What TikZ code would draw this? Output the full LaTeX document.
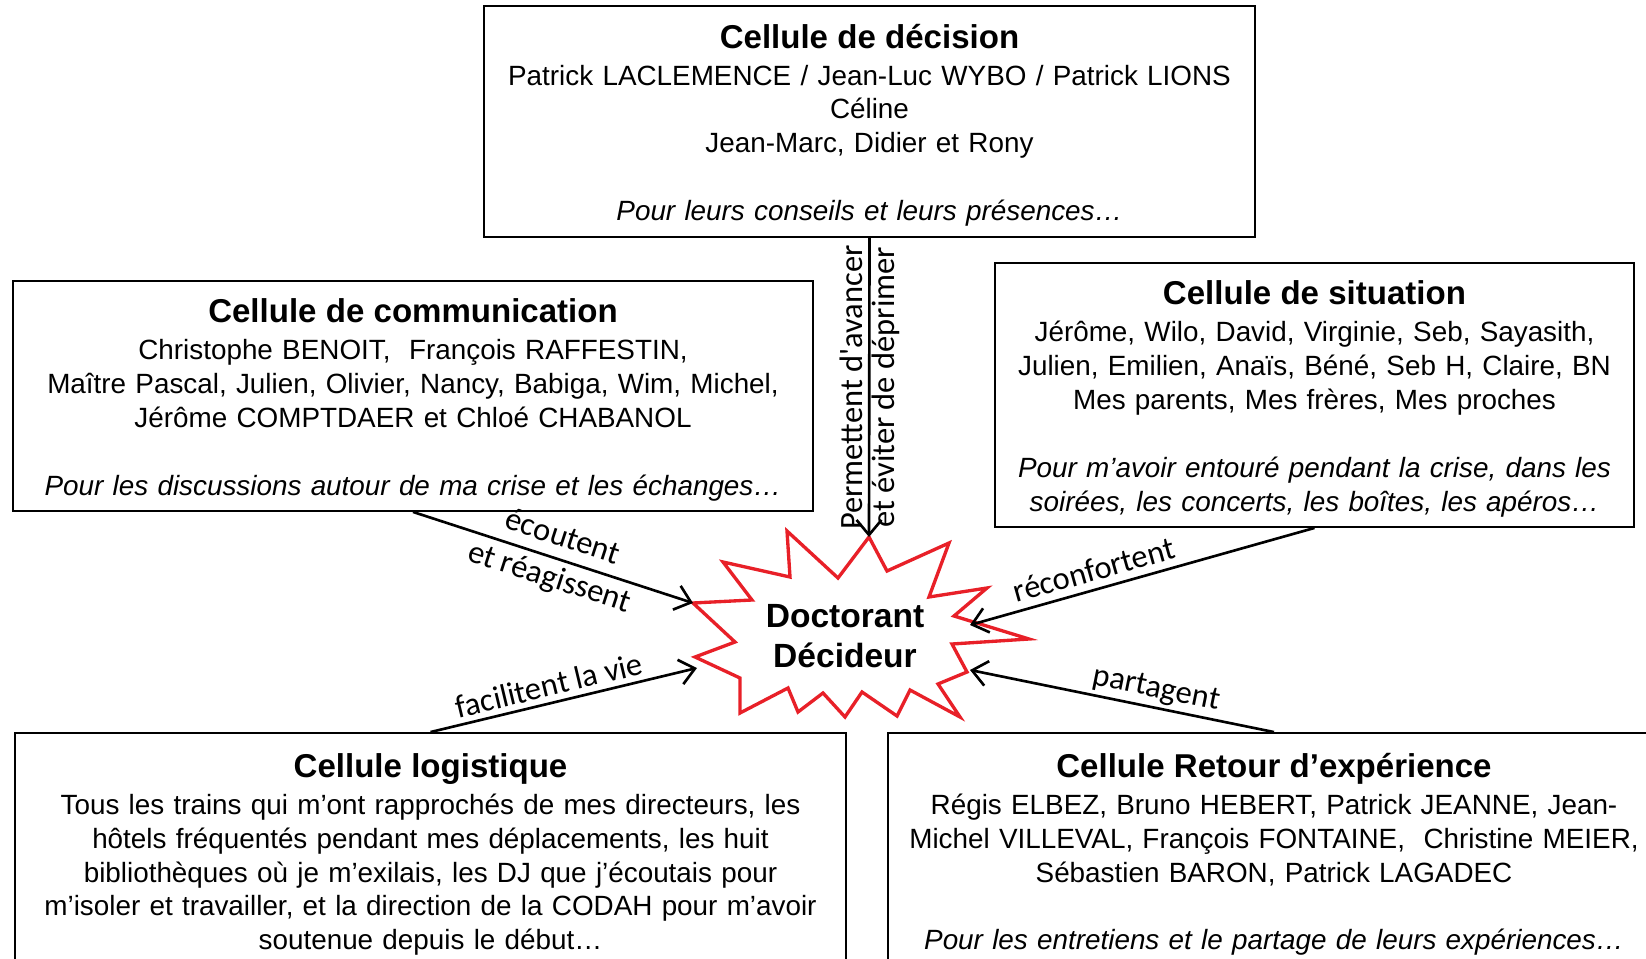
\documentclass[tikz,border=0pt]{standalone}
\usepackage{fontspec}
\setmainfont{Liberation Sans}
\newfontfamily\calibfont{Carlito}
\usetikzlibrary{arrows.meta, positioning}
\definecolor{burstred}{RGB}{232,32,40}

\newcommand*{\bodysize}{\fontsize{15.85}{19.3}\selectfont}
\newcommand*{\celltitle}[1]{{\fontsize{18.8}{21}\selectfont\bfseries #1}\\[1.7pt]}

\begin{document}
\begin{tikzpicture}[x=0.02cm, y=-0.02cm, >={Straight Barb[length=0.3cm, width=0.5cm]},
cell/.style={draw, line width=1.1pt, rectangle, inner sep=0pt, align=center, font=\bodysize, text height=18pt},
link/.style={line width=1.5pt},
verb/.style={font=\calibfont\fontsize{18.5}{24}\selectfont, align=center, inner sep=2pt}]

\useasboundingbox (0,0) rectangle (1646,959);

% CELLS

\node [cell, minimum width=15.42cm, minimum height=4.62cm, text width=15.2cm] (dec) at (869.5,121.5)
{\celltitle{Cellule de décision}
Patrick LACLEMENCE / Jean-Luc WYBO / Patrick LIONS\\
Céline\\
Jean-Marc, Didier et Rony\\[\baselineskip]
\textit{Pour leurs conseils et leurs présences…}};

\node [cell, minimum width=16cm, minimum height=4.6cm, text width=15.8cm] (comm) at (413,396)
{\celltitle{Cellule de communication}
Christophe BENOIT,\ \ François RAFFESTIN,\\
Maître Pascal, Julien, Olivier, Nancy, Babiga, Wim, Michel,\\
Jérôme COMPTDAER et Chloé CHABANOL\\[\baselineskip]
\textit{Pour les discussions autour de ma crise et les échanges…}};

\node [cell, minimum width=12.78cm, minimum height=5.28cm, text width=12.6cm] (sit) at (1314.5,395)
{\celltitle{Cellule de situation}
Jérôme, Wilo, David, Virginie, Seb, Sayasith,\\
Julien, Emilien, Anaïs, Béné, Seb H, Claire, BN\\
Mes parents, Mes frères, Mes proches\\[\baselineskip]
\textit{Pour m’avoir entouré pendant la crise, dans les}\\
\textit{soirées, les concerts, les boîtes, les apéros…}};

\node [cell, minimum width=16.62cm, minimum height=4.6cm, text width=16.4cm, text height=21pt] (logi) at (430.5,848)
{\celltitle{Cellule logistique}
Tous les trains qui m’ont rapprochés de mes directeurs, les\\
hôtels fréquentés pendant mes déplacements, les huit\\
bibliothèques où je m’exilais, les DJ que j’écoutais pour\\
m’isoler et travailler, et la direction de la CODAH pour m’avoir\\
soutenue depuis le début…};

\node [cell, minimum width=15.44cm, minimum height=4.6cm, text width=15.2cm, text height=21pt] (rex) at (1274,848)
{\celltitle{Cellule Retour d’expérience}
Régis ELBEZ, Bruno HEBERT, Patrick JEANNE, Jean-\\
Michel VILLEVAL, François FONTAINE,\ \ Christine MEIER,\\
Sébastien BARON, Patrick LAGADEC\\[\baselineskip]
\textit{Pour les entretiens et le partage de leurs expériences…}};

% DOCTORANT

\draw [burstred, line width=1.9pt, fill=white, line join=miter]
  (869,537) -- (887,571) -- (949,543) -- (929,597) -- (987,588) -- (954,616)
  -- (1029,639) -- (952,644) -- (967,672) -- (938,684) -- (960,717) -- (910,690)
  -- (897,716) -- (862,692) -- (845,717) -- (823,693) -- (798,712) -- (788,688)
  -- (740,713) -- (740,678) -- (695,657) -- (735,642) -- (693,603) -- (752,600)
  -- (723,562) -- (790,577) -- (787,531) -- (838,578) -- cycle;

\node [font=\fontsize{19.1}{22.8}\selectfont\bfseries, align=center] (doct) at (845,636) {Doctorant\\Décideur};

\coordinate (tipN)  at (869,537);
\coordinate (tipW)  at (693,603);
\coordinate (tipSW) at (697,668);
\coordinate (tipE)  at (970,625);
\coordinate (tipSE) at (970,670);

% ARROWS

\draw [link, ->] (dec.south) -- node [verb, pos=.5, rotate=90, anchor=south, inner sep=3pt] {Permettent d'avancer}
                                node [verb, pos=.5, rotate=90, anchor=north, inner sep=1pt] {et éviter de déprimer} (tipN);
\draw [link, ->] (comm.south) -- node [verb, sloped, pos=.51] {écoutent\\et réagissent} (tipW);
\draw [link, ->] (logi.north) -- node [verb, sloped, above, pos=.46, inner sep=3pt] {facilitent la vie} (tipSW);
\draw [link, <-] (tipE) -- node [verb, sloped, above, pos=.375, inner sep=4pt] {réconfortent} (sit.south);
\draw [link, <-] (tipSE) -- node [verb, sloped, above, pos=.6, inner sep=2pt] {partagent} (rex.north);

\end{tikzpicture}
\end{document}
